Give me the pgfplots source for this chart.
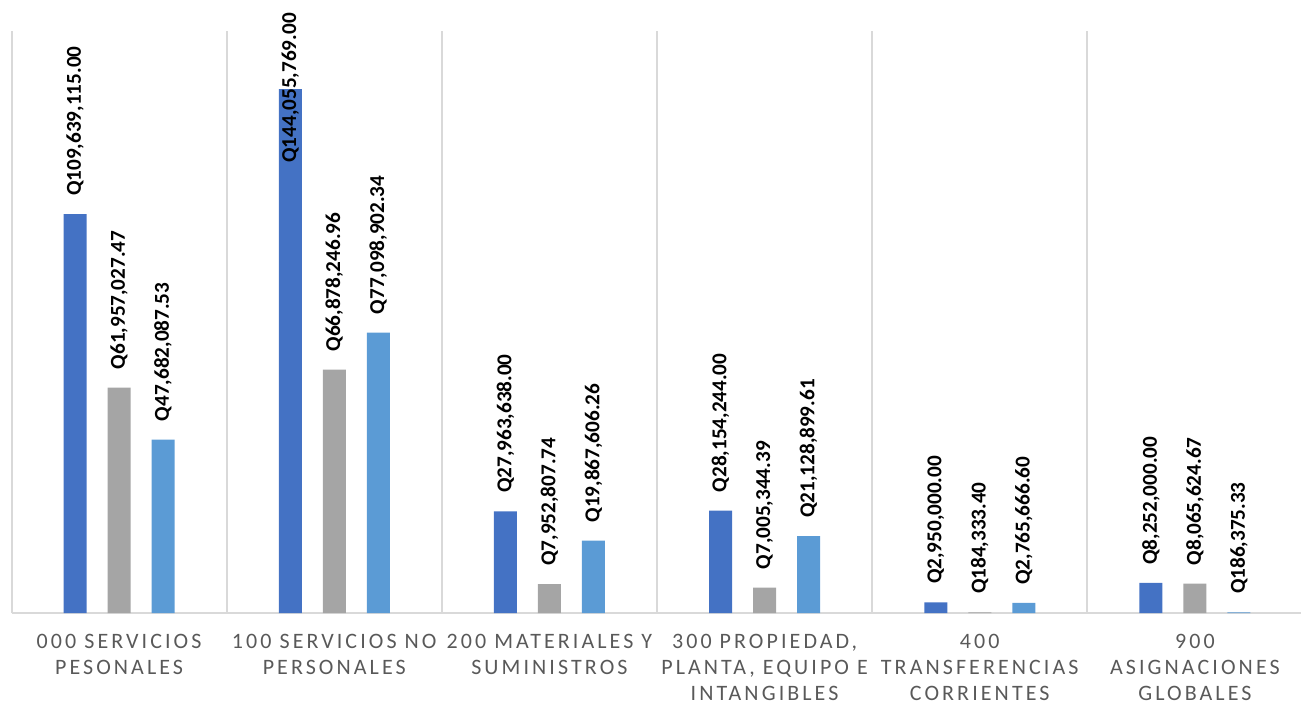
\documentclass[border=0pt]{standalone}
\usepackage{fontspec}
\setmainfont{Carlito}
\newfontfamily\tickfont[LetterSpace=14]{Carlito}
\usepackage{pgfplots}
\usepackage{pgfplotstable}
\pgfplotsset{compat=1.18}

\definecolor{serA}{HTML}{4472C4}
\definecolor{serB}{HTML}{A5A5A5}
\definecolor{serC}{HTML}{5B9BD5}
\definecolor{gridgray}{HTML}{D9D9D9}
\definecolor{tickgray}{HTML}{595959}

% values in millions of quetzales; labels as printed
\pgfplotstableread{
x a b c la lb lc dy
0 109.639115 61.95702747 47.68208753 Q109,639,115.00 Q61,957,027.47 Q47,682,087.53 0
1 144.055769 66.87824696 77.09890234 Q144,055,769.00 Q66,878,246.96 Q77,098,902.34 -46
2 27.963638 7.95280774 19.86760626 Q27,963,638.00 Q7,952,807.74 Q19,867,606.26 0
3 28.154244 7.00534439 21.12889961 Q28,154,244.00 Q7,005,344.39 Q21,128,899.61 0
4 2.95 0.1843334 2.7656666 Q2,950,000.00 Q184,333.40 Q2,765,666.60 0
5 8.252 8.06562467 0.18637533 Q8,252,000.00 Q8,065,624.67 Q186,375.33 0
}\budget

\begin{document}
\begin{tikzpicture}
\begin{axis}[
  at={(0,0)}, anchor=south west,
  scale only axis, width=645.5pt, height=291pt,
  ybar=10.5pt, bar width=11.5pt,
  xmin=-0.5, xmax=5.5, ymin=0, ymax=160,
  axis line style={draw=none},
  ytick=\empty,
  xtick={0,...,5},
  xticklabels={
    {000 SERVICIOS\\PESONALES},
    {100 SERVICIOS NO\\PERSONALES},
    {200 MATERIALES Y\\SUMINISTROS},
    {300 PROPIEDAD,\\PLANTA, EQUIPO E\\INTANGIBLES},
    {400\\TRANSFERENCIAS\\CORRIENTES},
    {900\\ASIGNACIONES\\GLOBALES}},
  major tick length=0pt,
  xticklabel style={font=\tickfont\fontsize{11}{13}\selectfont, text=tickgray,
    align=center, anchor=north, yshift=-7pt},
  extra x ticks={-0.5,0.5,...,5.5},
  extra x tick labels={},
  extra x tick style={grid=major, major grid style={draw=gridgray, line width=1pt}},
  extra y ticks={0},
  extra y tick labels={},
  extra y tick style={grid=major, major grid style={draw=gridgray, line width=1pt}},
  nodes near coords,
  point meta=explicit symbolic,
  every node near coord/.append style={font=\bfseries\fontsize{10.6}{12}\selectfont,
    text=black, rotate=90, anchor=west, inner xsep=9pt},
  clip=false,
]
\addplot[fill=serA, draw=none,
  visualization depends on={\thisrow{dy} \as \dy},
  every node near coord/.append style={xshift=\dy pt}]
  table[x=x, y=a, meta=la] {\budget};
\addplot[fill=serB, draw=none] table[x=x, y=b, meta=lb] {\budget};
\addplot[fill=serC, draw=none] table[x=x, y=c, meta=lc] {\budget};
\end{axis}
\pgfresetboundingbox
\path[use as bounding box] (-5.75pt,-45pt) rectangle (644.75pt,306.5pt);
\end{tikzpicture}
\end{document}
